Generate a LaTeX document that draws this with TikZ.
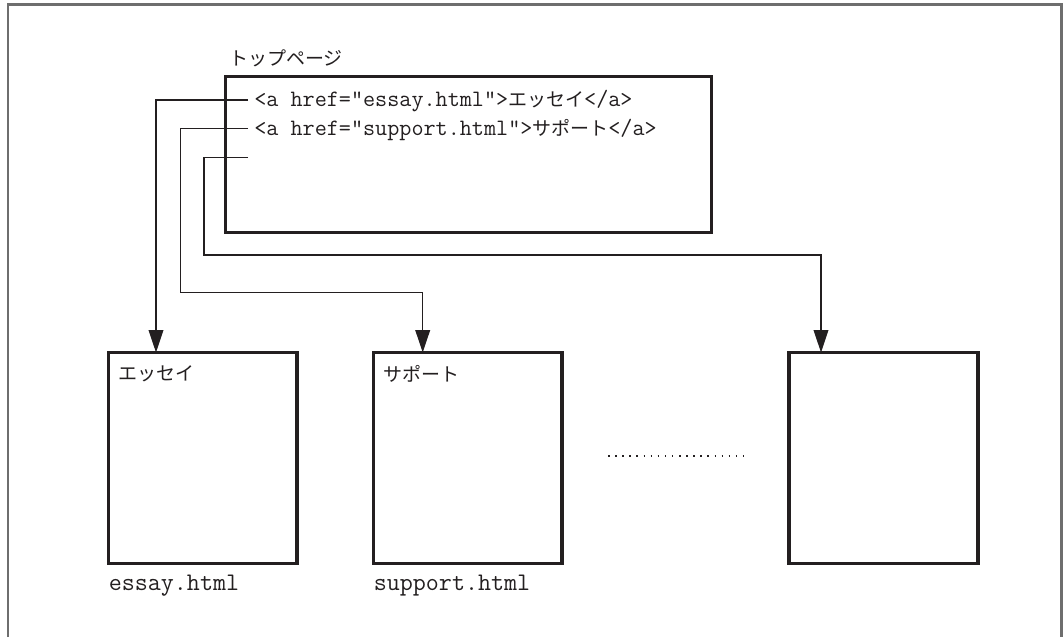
\documentclass[tikz,border=0pt]{standalone}
\usepackage{fontspec}
\newfontfamily\jpfont{Noto Sans CJK JP}
\usetikzlibrary{arrows.meta,calc}
\definecolor{InkClr}{RGB}{35,31,32}
\definecolor{FrameClr}{RGB}{110,110,110}
\newcommand\kana[1]{{\jpfont\fontsize{13.5pt}{16pt}\selectfont #1}}

\tikzset{
  pagebox/.style={draw=InkClr,line width=2.4pt,rectangle,inner sep=0pt,outer sep=0pt,anchor=north west},
  link/.style={draw=InkClr,line width=0.9pt,-{Triangle[length=16pt,width=10.5pt]}},
  stub/.style={draw=InkClr,line width=0.9pt},
  code/.style={font=\ttfamily\fontsize{16.7pt}{20pt}\selectfont,text=InkClr,inner sep=0pt,anchor=base west},
  fname/.style={font=\ttfamily\fontsize{18pt}{22pt}\selectfont,text=InkClr,inner sep=0pt,anchor=base west},
  title/.style={font=\jpfont\fontsize{13.5pt}{16pt}\selectfont,text=InkClr,inner sep=0pt,anchor=west},
}

\begin{document}
\begin{tikzpicture}[x=0.025cm,y=-0.025cm]
\useasboundingbox (0,0) rectangle (1063,637);

% outer frame
\draw[FrameClr,line width=1.9pt] (8,637) |- (1061.5,4.7) -- (1061.5,637);

% pages
\node[pagebox,minimum width=12.15cm,minimum height=3.9cm] (top) at (225.3,76.2) {};
\node[pagebox,minimum width=4.72cm,minimum height=5.27cm] (essay) at (108.3,352.5) {};
\node[pagebox,minimum width=4.72cm,minimum height=5.27cm] (support) at (373.3,352.5) {};
\node[pagebox,minimum width=4.72cm,minimum height=5.27cm] (other) at (789,352.5) {};

% texts
\node[title] (toptitle) at (229,58) {トップページ};
\node[code] (href1) at (254,106.5) {<a href="essay.html">\kana{エッセイ}</a>};
\node[code] (href2) at (254,135) {<a href="support.html">\kana{サポート}</a>};
\node[title] (essaytitle) at ($(essay.north west)+(9.5,21.5)$) {エッセイ};
\node[title] (supporttitle) at ($(support.north west)+(9.5,21.5)$) {サポート};
\node[fname] (essayfile) at (108.5,590) {essay.html};
\node[fname] (supportfile) at (373.5,590) {support.html};

% links
\coordinate (s1) at (248,100);
\coordinate (s2) at (248,128.3);
\coordinate (s3) at (248,157.3);
\coordinate (bend2) at (180.7,292.3);
\coordinate (bend3) at (204,255);

\draw[link] (s1) -| ($(essay.north west)+(47.7,0)$);
\draw[link] (s2) -| (bend2) -| ($(support.north west)+(49.4,0)$);
\draw[link] (s3) -| (bend3) -| ($(other.north west)+(32,0)$);

% more pages
\draw[InkClr,line width=1.1pt,dash pattern=on 1.1pt off 3.95pt] (608,456) -- (743,456);

\end{tikzpicture}
\end{document}
